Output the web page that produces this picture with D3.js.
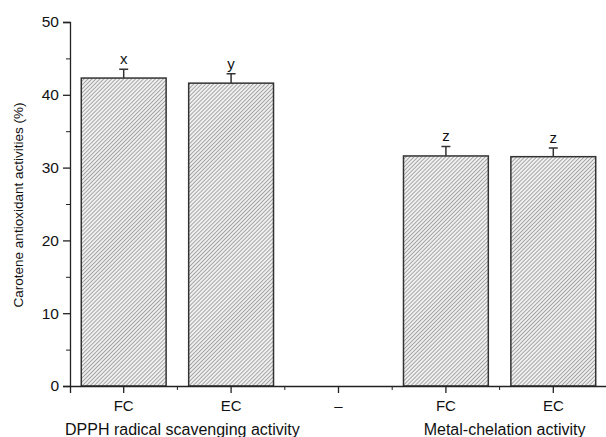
<!DOCTYPE html>
<html>
<head>
<meta charset="utf-8">
<script src="https://cdn.jsdelivr.net/npm/d3@7"></script>
<style>
  body { margin: 0; background: #fff; }
  svg { font-family: "Liberation Sans", Arial, sans-serif; }
</style>
</head>
<body>
<script>
// data
const slots = ["s1", "s2", "s3", "s4", "s5"];
const slotLabels = ["FC", "EC", "\u2013", "FC", "EC"];
const values = [42.3, 41.6, null, 31.6, 31.5];
const errors = [1.2, 1.3, null, 1.3, 1.2];
const letters = ["x", "y", "", "z", "z"];
const yTicks = [0, 10, 20, 30, 40, 50];
const groups = [
  { name: "DPPH radical scavenging activity", from: "s1", to: "s2" },
  { name: "Metal-chelation activity", from: "s4", to: "s5" }
];

const w = 606, h = 437;
const padLeft = 70, padRight = 607, padTop = 22, padBottom = 386;

const svg = d3.select("body").append("svg")
  .attr("width", w)
  .attr("height", h);

// hatch pattern for bars
const defs = svg.append("defs");
const pat = defs.append("pattern")
  .attr("id", "hatch")
  .attr("patternUnits", "userSpaceOnUse")
  .attr("width", 2.8)
  .attr("height", 2.8)
  .attr("patternTransform", "rotate(45)");
pat.append("rect").attr("width", 2.8).attr("height", 2.8).attr("fill", "#f0f0f0");
pat.append("line")
  .attr("x1", 0).attr("y1", 0).attr("x2", 0).attr("y2", 2.8)
  .attr("stroke", "#6a6a6a").attr("stroke-width", 1.1);

const x = d3.scaleBand()
  .domain(slots)
  .range([padLeft, padRight])
  .paddingInner(0.21)
  .paddingOuter(0.105);

const y = d3.scaleLinear()
  .domain([0, 50])
  .range([padBottom, padTop]);

const data = slots.map((s, i) => ({ slot: s, v: values[i], e: errors[i], l: letters[i] }))
  .filter(d => d.v != null);

// bars
svg.selectAll(".bar")
  .data(data)
  .enter()
  .append("rect")
  .attr("class", "bar")
  .attr("x", d => x(d.slot))
  .attr("y", d => y(d.v))
  .attr("width", x.bandwidth())
  .attr("height", d => y(0) - y(d.v))
  .attr("fill", "url(#hatch)")
  .attr("stroke", "#333")
  .attr("stroke-width", 1.5);

// error bars (upper only)
const cx = d => x(d.slot) + x.bandwidth() / 2;
svg.selectAll(".err")
  .data(data)
  .enter()
  .append("path")
  .attr("class", "err")
  .attr("d", d => "M" + cx(d) + "," + y(d.v) + "V" + y(d.v + d.e) +
    "M" + (cx(d) - 4.5) + "," + y(d.v + d.e) + "H" + (cx(d) + 4.5))
  .attr("stroke", "#333")
  .attr("stroke-width", 1.5)
  .attr("fill", "none");

svg.selectAll(".letter")
  .data(data)
  .enter()
  .append("text")
  .attr("x", cx)
  .attr("y", d => y(d.v + d.e) - 5)
  .attr("text-anchor", "middle")
  .style("font-size", "15px")
  .attr("fill", "#111")
  .text(d => d.l);

// y axis
const yAxis = d3.axisLeft(y).tickValues(yTicks).tickSize(7).tickPadding(4);
const yg = svg.append("g")
  .attr("transform", "translate(" + padLeft + ",0)")
  .call(yAxis);
svg.append("g")
  .attr("transform", "translate(" + padLeft + ",0)")
  .call(d3.axisLeft(y).tickValues(d3.range(5, 50, 10)).tickSize(4).tickFormat(""))
  .select(".domain").remove();

// x axis
const xg = svg.append("g")
  .attr("transform", "translate(0," + padBottom + ")")
  .call(d3.axisBottom(x).tickSizeOuter(0).tickSize(7).tickPadding(7).tickFormat((d, i) => slotLabels[i]));

// minor x ticks between slots
const minors = slots.slice(1).map(s => x(s) - x.step() * x.paddingInner() / 2);
svg.append("g")
  .selectAll("line")
  .data(minors)
  .enter()
  .append("line")
  .attr("x1", d => d).attr("x2", d => d)
  .attr("y1", padBottom).attr("y2", padBottom + 4)
  .attr("stroke", "#222");

[yg, xg].forEach(g => {
  g.selectAll("path, line").attr("stroke", "#222").attr("stroke-width", 1.3);
  g.selectAll("text").attr("fill", "#111").style("font-size", "15.5px");
});
xg.selectAll("text").style("font-size", "15px");
svg.selectAll("g line").attr("stroke", "#222");

// group labels
svg.selectAll(".group")
  .data(groups)
  .enter()
  .append("text")
  .attr("x", d => (x(d.from) + x(d.to) + x.bandwidth()) / 2 + 5)
  .attr("y", 435)
  .attr("text-anchor", "middle")
  .style("font-size", "16px")
  .attr("fill", "#111")
  .text(d => d.name);

// y title
svg.append("text")
  .attr("transform", "translate(23," + ((padTop + padBottom) / 2 + 1) + ") rotate(-90)")
  .attr("text-anchor", "middle")
  .style("font-size", "13.5px")
  .attr("fill", "#111")
  .text("Carotene antioxidant activities (%)");
</script>
</body>
</html>
